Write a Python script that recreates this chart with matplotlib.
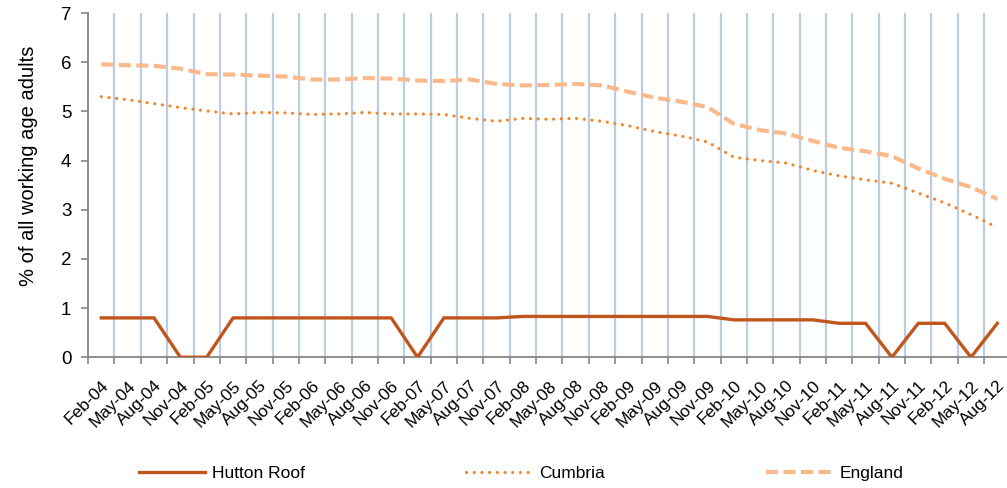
import numpy as np
import matplotlib.pyplot as plt

plt.rcParams['font.family'] = ['Liberation Sans', 'DejaVu Sans']

# quarterly labels, Feb-04 .. Aug-12
quarters = ['Feb-04', 'May-04', 'Aug-04', 'Nov-04',
            'Feb-05', 'May-05', 'Aug-05', 'Nov-05',
            'Feb-06', 'May-06', 'Aug-06', 'Nov-06',
            'Feb-07', 'May-07', 'Aug-07', 'Nov-07',
            'Feb-08', 'May-08', 'Aug-08', 'Nov-08',
            'Feb-09', 'May-09', 'Aug-09', 'Nov-09',
            'Feb-10', 'May-10', 'Aug-10', 'Nov-10',
            'Feb-11', 'May-11', 'Aug-11', 'Nov-11',
            'Feb-12', 'May-12', 'Aug-12']

hutton_roof = [0.8, 0.8, 0.8, 0.0, 0.0, 0.8, 0.8, 0.8,
               0.8, 0.8, 0.8, 0.8, 0.0, 0.8, 0.8, 0.8,
               0.83, 0.83, 0.83, 0.83, 0.83, 0.83, 0.83, 0.83,
               0.76, 0.76, 0.76, 0.76, 0.69, 0.69, 0.0, 0.69,
               0.69, 0.0, 0.69]

cumbria = [5.30, 5.24, 5.16, 5.08, 5.01, 4.95, 4.98, 4.97,
           4.94, 4.95, 4.98, 4.95, 4.95, 4.94, 4.86, 4.80,
           4.86, 4.84, 4.86, 4.80, 4.71, 4.59, 4.50, 4.38,
           4.07, 4.00, 3.95, 3.80, 3.69, 3.61, 3.54, 3.34,
           3.14, 2.90, 2.64]

england = [5.96, 5.94, 5.93, 5.87, 5.76, 5.75, 5.73, 5.71,
           5.65, 5.65, 5.68, 5.67, 5.63, 5.62, 5.65, 5.56,
           5.53, 5.54, 5.56, 5.53, 5.40, 5.28, 5.20, 5.09,
           4.75, 4.62, 4.55, 4.40, 4.26, 4.19, 4.09, 3.84,
           3.63, 3.46, 3.22]

x = np.arange(len(quarters))

fig = plt.figure(figsize=(10.07, 4.88), dpi=100)
ax = fig.add_axes([0.0875, 0.268, 0.916, 0.705])

# vertical gridlines between categories
for b in x[:-1] + 0.5:
    ax.axvline(b, color='#b9cde5', lw=1.6, zorder=1)

ax.plot(x, hutton_roof, color='#c0561c', lw=2.4, label='Hutton Roof', zorder=3,
        solid_joinstyle='miter')
ax.plot(x, cumbria, color='#f68325', lw=2.3, linestyle=(0, (0.01, 2.4)),
        dash_capstyle='round', label='Cumbria', zorder=3)
ax.plot(x, england, color='#f9b98b', lw=3.0, linestyle=(0, (2.9, 1.3)),
        label='England', zorder=2)

ax.set_xlim(-0.5, len(quarters) - 0.5)
ax.set_ylim(0, 7)
ax.set_yticks(range(0, 8))
ax.set_xticks(np.arange(-0.5, len(quarters) - 0.4, 1.0), minor=False)
ax.set_xticklabels([])
ax.set_xticks(x, minor=True)
ax.set_xticklabels(quarters, minor=True, rotation=45, ha='right',
                   rotation_mode='anchor', fontsize=12.5)
ax.tick_params(axis='x', which='minor', length=0, pad=15)
ax.tick_params(axis='x', which='major', length=5, width=1.2, color='#868686')
ax.tick_params(axis='y', length=5, width=1.2, color='#868686', labelsize=13.5, pad=7)

for s in ['top', 'right']:
    ax.spines[s].set_visible(False)
for s in ['left', 'bottom']:
    ax.spines[s].set_color('#868686')
    ax.spines[s].set_linewidth(1.3)

ax.set_ylabel('% of all working age adults', fontsize=14.5)
ax.yaxis.set_label_coords(-0.054, 0.555)

fig.legend(loc='center', bbox_to_anchor=(521 / 1007, 1 - 473 / 488), ncol=3,
           frameon=False, fontsize=12.5, handlelength=3.8, handletextpad=0.4,
           columnspacing=9.3)

fig.savefig('out.png', dpi=100)
